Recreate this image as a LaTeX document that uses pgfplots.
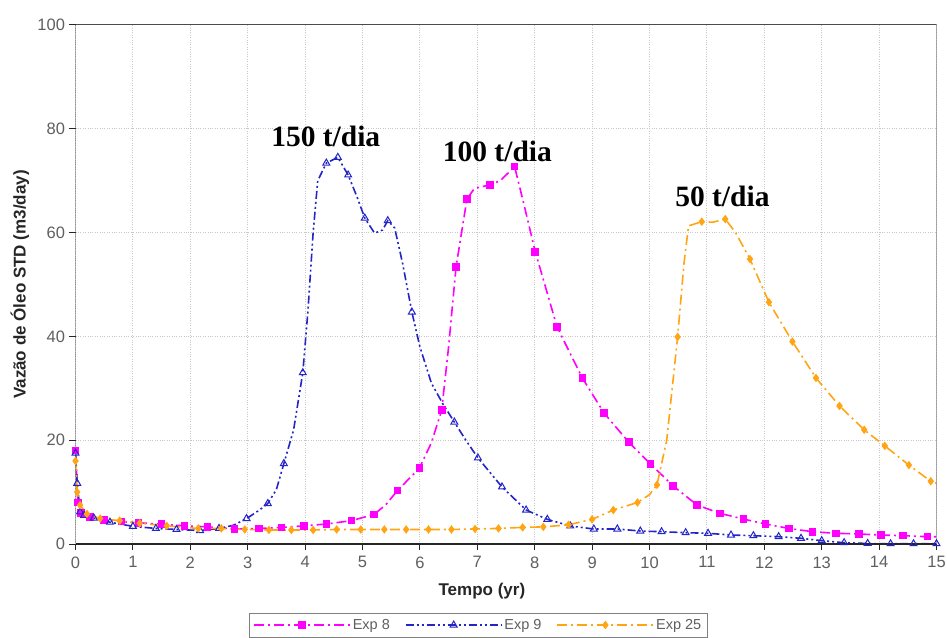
\documentclass[border=0pt]{standalone}
\usepackage{pgfplots}
\pgfplotsset{compat=1.18}
\usepackage{pgfplotstable}
\usepackage{fontspec}
\setmainfont{Liberation Sans}
\newfontfamily\serifb{Liberation Serif}

\definecolor{expmag}{RGB}{255,0,255}
\definecolor{expblue}{RGB}{36,36,200}
\definecolor{exporange}{RGB}{255,165,20}
\definecolor{tickgray}{RGB}{95,95,95}
\definecolor{gridgray}{RGB}{200,200,200}

% line styles of the three runs
\tikzset{
  dashA/.style={dash pattern=on 10pt off 4pt on 2pt off 4pt},
  dashB/.style={dash pattern=on 8pt off 3pt on 2pt off 3pt on 2pt off 3pt},
}

% Exp 8 -- 100 t/dia
\pgfplotstableread{
t q
0 18
0.04 8
0.1 6
0.25 5.2
0.5 4.6
0.8 4.3
1.1 4.1
1.5 3.8
1.9 3.5
2.3 3.3
2.77 2.9
3.2 3.0
3.59 3.2
3.98 3.5
4.37 3.85
4.81 4.5
5.2 5.7
5.4 7.5
5.61 10.3
5.99 14.6
6.2 19.5
6.38 25.8
6.5 38
6.63 53.4
6.82 66.5
6.95 68.5
7.22 69.2
7.4 70
7.65 72.7
7.8 66
8.01 56.3
8.39 41.8
8.83 32
9.21 25.2
9.64 19.6
10.02 15.4
10.41 11.2
10.83 7.5
11.23 5.9
11.64 4.8
12.02 3.85
12.43 3.0
12.84 2.37
13.25 2.06
13.65 1.93
14.03 1.73
14.42 1.6
14.84 1.41
15 1.4
}\expeight

% Exp 9 -- 150 t/dia
\pgfplotstableread{
t q
0 17.5
0.03 11.7
0.08 6.2
0.15 5.5
0.32 5.0
0.6 4.2
1.0 3.4
1.4 3.0
1.76 2.8
2.17 2.6
2.5 3.0
2.75 3.6
2.98 4.9
3.2 6.5
3.35 7.8
3.5 10.5
3.63 15.5
3.8 22
3.96 33
4.05 45
4.14 60
4.22 70
4.37 73.4
4.57 74.5
4.75 71.1
4.9 67
5.04 62.8
5.21 59.9
5.35 60.5
5.44 62.3
5.56 60.9
5.7 54
5.86 44.7
6.0 38
6.2 31
6.4 27
6.6 23.5
6.8 20
7.01 16.6
7.43 11.0
7.85 6.55
8.22 4.75
8.62 3.47
9.03 2.89
9.44 2.89
9.84 2.5
10.21 2.37
10.63 2.18
11.02 2.06
11.42 1.73
11.81 1.6
12.25 1.41
12.64 1.1
13.0 0.64
13.39 0.25
13.8 0.1
14.2 0.05
14.6 0.05
15 0.05
}\expnine

% Exp 25 -- 50 t/dia
\pgfplotstableread{
t q
0 16
0.03 10
0.08 7.5
0.2 5.8
0.43 4.9
0.77 4.5
1.12 4.0
1.59 3.5
2.14 3.0
2.54 3.0
2.95 2.8
3.37 2.7
3.76 2.7
4.14 2.7
4.55 2.8
4.97 2.8
5.38 2.8
5.76 2.8
6.15 2.8
6.55 2.8
6.96 2.9
7.37 3.0
7.79 3.2
8.15 3.3
8.59 3.7
9.0 4.75
9.37 6.55
9.79 8.0
10.0 9.5
10.13 11.4
10.3 20
10.49 39.9
10.6 54
10.68 61.3
10.91 62.1
11.1 62.0
11.32 62.6
11.5 60
11.75 54.9
12.08 46.6
12.49 39.0
12.9 32.0
13.31 26.6
13.74 22.0
14.1 18.9
14.52 15.2
14.9 12.1
15 11.7
}\exptwentyfive

\begin{document}
\begin{tikzpicture}
\path[use as bounding box] (-75.5pt,-93pt) rectangle (871.5pt,544pt);
\begin{axis}[
  at={(0pt,0pt)}, anchor=south west,
  width=861pt, height=519pt, scale only axis,
  xmin=0, xmax=15, ymin=0, ymax=100,
  xtick={0,1,2,3,4,5,6,7,8,9,10,11,12,13,14,15},
  ytick={0,20,40,60,80,100},
  grid=major,
  major grid style={gridgray, dotted, line width=1pt},
  axis line style={draw=none},
  tick align=outside, tick pos=left,
  major tick length=6pt,
  tick style={black!85, line width=1pt},
  ticklabel style={font=\fontsize{16.5}{18}\selectfont, text=tickgray},
  xticklabel style={yshift=-3pt},
  yticklabel style={xshift=-1pt},
  /pgf/number format/assume math mode=true,
  xlabel={Tempo (yr)},
  ylabel={Vazão de Óleo STD (m3/day)},
  every axis x label/.style={at={(axis description cs:0.472,-0.0906)}, anchor=center},
  every axis y label/.style={at={(axis description cs:-0.0645,0.5)}, rotate=90, anchor=center},
  label style={font=\bfseries\fontsize{17}{19}\selectfont, text=black!85},
  legend style={at={(0.2015,-0.133)}, anchor=north west,
    draw=gray, font=\fontsize{14.5}{17}\selectfont, text=tickgray,
    inner sep=4pt,
    /tikz/every even column/.append style={column sep=13pt}},
  legend columns=3,
]
\addplot[expmag, line width=1.6pt, dashA,
  mark=square*, mark size=3pt, mark options={solid},
  mark indices={1,2,3,4,5,6,7,8,9,10,11,12,13,14,15,16,17,19,20,22,24,25,27,29,31,32,33,34,35,36,37,38,39,40,41,42,43,44,45,46,47,48},
  legend image code/.code={
    \draw[expmag, line width=1.6pt, dashA] (0pt,0pt) -- (96pt,0pt);
    \draw[expmag, solid] plot[mark=square*, mark size=3pt] coordinates {(48pt,0pt)};}]
  table[x=t, y=q] {\expeight};
\addlegendentry{Exp 8}
\addplot[expblue, line width=1.6pt, dashB,
  mark=triangle, mark size=4pt, mark options={solid, line width=1pt},
  mark indices={1,2,3,4,5,6,7,8,9,10,11,13,15,17,19,23,24,25,27,30,33,37,39,40,41,42,43,44,45,46,47,48,49,50,51,52,53,54,55,56,57,58,59},
  legend image code/.code={
    \draw[expblue, line width=1.6pt, dashB] (0pt,0pt) -- (96pt,0pt);
    \draw[expblue, solid, line width=1pt] plot[mark=triangle, mark size=4pt] coordinates {(48pt,0pt)};}]
  table[x=t, y=q] {\expnine};
\addlegendentry{Exp 9}
\addplot[exporange, line width=1.6pt, dashA,
  mark=diamond*, mark size=3pt, mark options={solid},
  mark indices={1,2,3,4,5,6,7,8,9,10,11,12,13,14,15,16,17,18,19,20,21,22,23,24,25,26,27,28,30,32,35,37,39,40,41,42,43,44,45,46,47},
  legend image code/.code={
    \draw[exporange, line width=1.6pt, dashA] (0pt,0pt) -- (96pt,0pt);
    \draw[exporange, solid] plot[mark=diamond*, mark size=3pt] coordinates {(48pt,0pt)};}]
  table[x=t, y=q] {\exptwentyfive};
\addlegendentry{Exp 25}

% frame: heavy left and bottom axes, lighter top and right edges
\draw[black!85, line width=1.8pt] (rel axis cs:0,1) -- (rel axis cs:0,0) -- (rel axis cs:1,0);
\draw[black!70, line width=1pt] (rel axis cs:0,1) -- (rel axis cs:1,1);
\draw[gray, line width=1pt] (rel axis cs:1,0) -- (rel axis cs:1,1);

\node[font=\serifb\bfseries\fontsize{29.5}{32}\selectfont] at (axis cs:4.36,78.6) {150 t/dia};
\node[font=\serifb\bfseries\fontsize{29.5}{32}\selectfont] at (axis cs:7.35,75.6) {100 t/dia};
\node[font=\serifb\bfseries\fontsize{29.5}{32}\selectfont] at (axis cs:11.27,67.0) {50 t/dia};
\end{axis}
\end{tikzpicture}
\end{document}
